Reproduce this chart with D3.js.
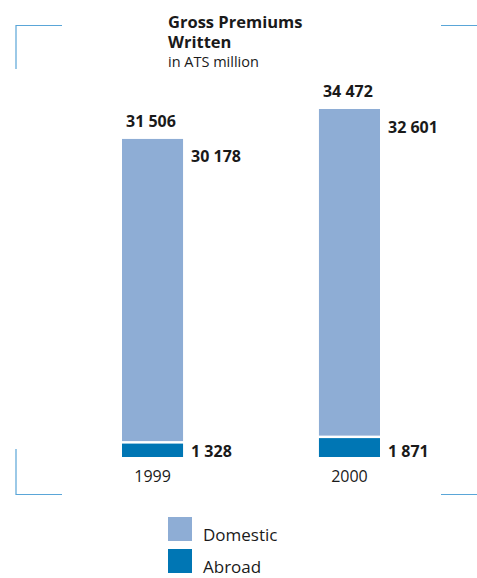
<!DOCTYPE html>
<html lang="en">
<head>
<meta charset="UTF-8">
<title>Gross Premiums Written</title>
<script src="https://cdn.jsdelivr.net/npm/d3@7"></script>
<style>
  body { margin: 0; background: #fff; }
  text { font-family: "Open Sans", "DejaVu Sans", sans-serif; fill: #1a1a1a; }
</style>
</head>
<body>
<div id="chart"></div>
<script>
  // data
  const years = ["1999", "2000"];
  const domestic = [30178, 32601];
  const abroad = [1328, 1871];
  const totals = [31506, 34472];
  const seriesNames = ["Domestic", "Abroad"];
  const seriesColors = ["#8eadd5", "#0076b4"];

  var width = 477, height = 578;

  var svg = d3.select("#chart").append("svg")
      .attr("width", width)
      .attr("height", height);

  // corner marks
  var mark = "#5aa6d8";
  var corners = [
    [[16, 69], [16, 25.5], [62, 25.5]],
    [[441, 25.5], [477, 25.5]],
    [[16, 449], [16, 494.5], [62, 494.5]],
    [[441, 494.5], [477, 494.5]]
  ];
  svg.selectAll(".corner").data(corners).enter().append("path")
     .attr("class", "corner")
     .attr("d", d3.line())
     .attr("fill", "none")
     .attr("stroke", mark)
     .attr("stroke-width", 1.2);

  // title
  svg.append("text").attr("x", 168).attr("y", 28)
     .attr("font-size", "16.5px").attr("font-weight", "bold")
     .text("Gross Premiums");
  svg.append("text").attr("x", 168).attr("y", 48)
     .attr("font-size", "16.5px").attr("font-weight", "bold")
     .text("Written");
  svg.append("text").attr("x", 168).attr("y", 67)
     .attr("font-size", "14.5px")
     .text("in ATS million");

  var x = d3.scaleBand().domain(years).range([122, 380]).paddingInner(0.69).paddingOuter(0);
  var y = d3.scaleLinear().domain([0, d3.max(totals)]).range([457, 109]);
  var gap = 2.5;

  var fmt = function(v) { return d3.format(",")(v).replace(/,/g, " "); };

  var g = svg.selectAll(".bar").data(years).enter().append("g").attr("class", "bar");

  // abroad
  g.append("rect")
   .attr("x", function(d) { return x(d); })
   .attr("width", x.bandwidth())
   .attr("y", function(d, i) { return y(abroad[i]); })
   .attr("height", function(d, i) { return y(0) - y(abroad[i]); })
   .attr("fill", seriesColors[1]);

  // domestic on top
  g.append("rect")
   .attr("x", function(d) { return x(d); })
   .attr("width", x.bandwidth())
   .attr("y", function(d, i) { return y(abroad[i] + domestic[i]); })
   .attr("height", function(d, i) { return y(abroad[i]) - y(abroad[i] + domestic[i]) - gap; })
   .attr("fill", seriesColors[0]);

  // total label above
  g.append("text")
   .attr("x", function(d) { return x(d) + 4; })
   .attr("y", function(d, i) { return y(totals[i]) - 12; })
   .attr("font-size", "16px").attr("font-weight", "bold")
   .text(function(d, i) { return fmt(totals[i]); });

  // domestic label
  g.append("text")
   .attr("x", function(d) { return x(d) + x.bandwidth() + 8; })
   .attr("y", function(d, i) { return y(totals[i]) + 23.5; })
   .attr("font-size", "16px").attr("font-weight", "bold")
   .text(function(d, i) { return fmt(domestic[i]); });

  // abroad label
  g.append("text")
   .attr("x", function(d) { return x(d) + x.bandwidth() + 8; })
   .attr("y", y(0))
   .attr("font-size", "16px").attr("font-weight", "bold")
   .text(function(d, i) { return fmt(abroad[i]); });

  // year axis
  var axis = svg.append("g").attr("transform", "translate(0,482)")
     .call(d3.axisBottom(x).tickSize(0).tickPadding(0));
  axis.select(".domain").remove();
  axis.selectAll("text")
      .attr("dy", 0)
      .attr("font-size", "16px")
      .style("font-family", "'Open Sans', 'DejaVu Sans', sans-serif")
      .attr("fill", "#1a1a1a");

  // legend
  var leg = svg.selectAll(".leg").data(seriesNames).enter().append("g")
     .attr("class", "leg")
     .attr("transform", function(d, i) { return "translate(168," + (517 + i * 32) + ")"; });
  leg.append("rect").attr("width", 24).attr("height", 24)
     .attr("fill", function(d, i) { return seriesColors[i]; });
  leg.append("text").attr("x", 35).attr("y", 23.5)
     .attr("font-size", "17px")
     .text(function(d) { return d; });
</script>
</body>
</html>
